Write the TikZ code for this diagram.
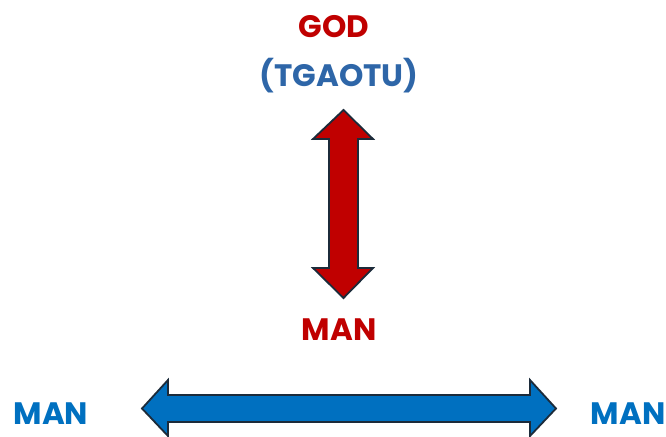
\documentclass[tikz,border=0pt]{standalone}
\usepackage{fontspec}
\setmainfont{Poppins}
\definecolor{myred}{HTML}{C00000}
\definecolor{myblue}{HTML}{0070C0}
\definecolor{mydblue}{HTML}{2E66A8}
\definecolor{edge}{HTML}{1C2B3A}
\begin{document}
\begin{tikzpicture}[x=1pt,y=-1pt,
  lbl/.style={font=\fontsize{31}{34}\selectfont\bfseries, inner sep=0pt, anchor=center},
  arr/.style={draw=edge, line width=1.8pt, line join=miter}]
\useasboundingbox (0,0) rectangle (666,436);
\node[lbl, text=myred] (god) at (334,27) {GOD};
\node[lbl, text=mydblue] (tg) at (339,76) {(TGAOTU)};
\node[lbl, text=myred] (man) at (339,330) {MAN};
\node[lbl, text=myblue] (manl) at (51,414) {MAN};
\node[lbl, text=myblue] (manr) at (628,414) {MAN};
% vertical double arrow
\filldraw[arr, fill=myred] (343.5,110) -- (373,139) -- (358,139) -- (358,268) -- (373,268) -- (343.5,298) -- (313,268) -- (329,268) -- (329,139) -- (313,139) -- cycle;
% horizontal double arrow
\filldraw[arr, fill=myblue] (142,408.5) -- (168,380) -- (168,395) -- (530,395) -- (530,380) -- (556,408.5) -- (530,436) -- (530,422) -- (168,422) -- (168,436) -- cycle;
\end{tikzpicture}
\end{document}
